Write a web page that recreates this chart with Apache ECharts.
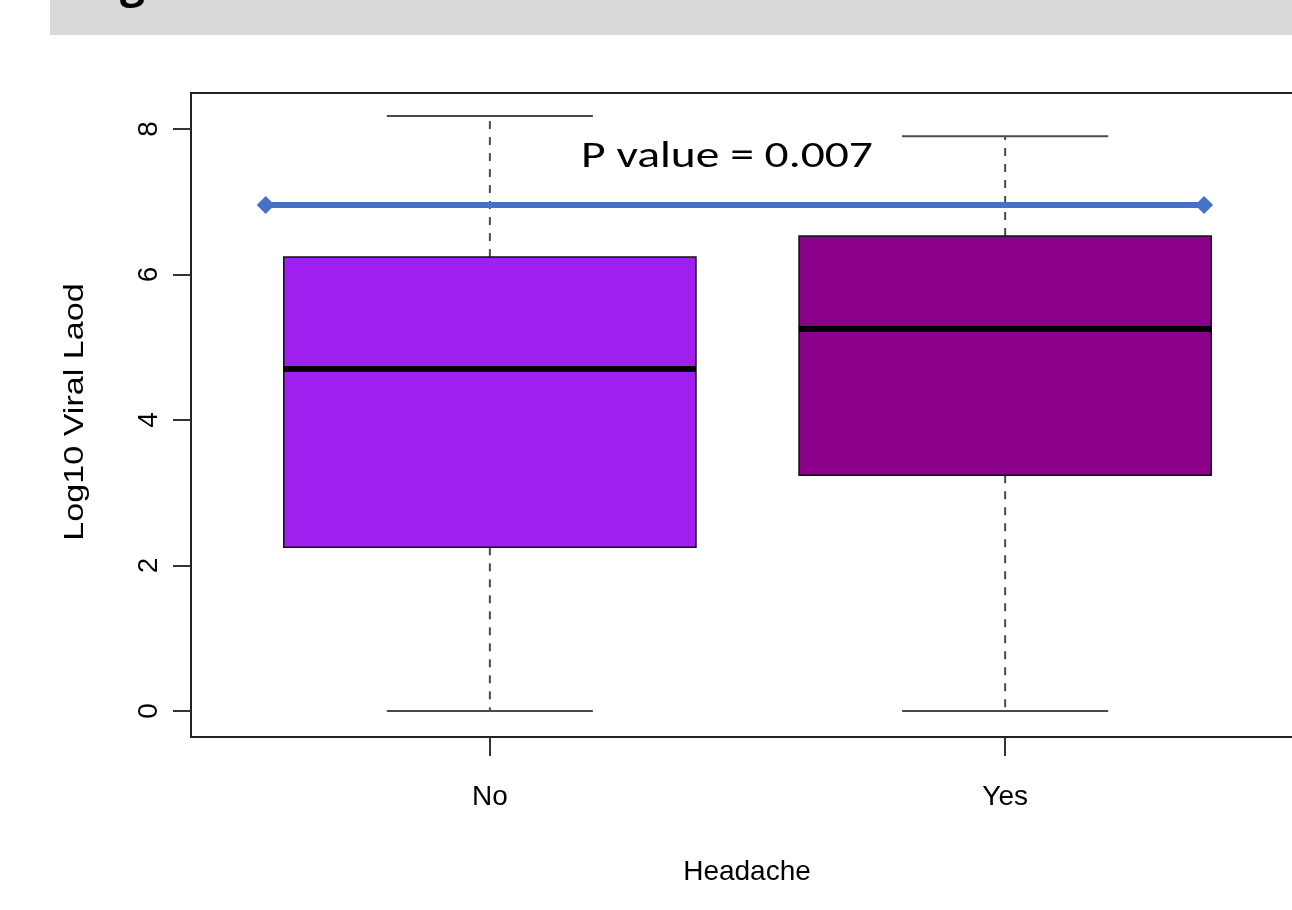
<!DOCTYPE html>
<html>
<head>
<meta charset="utf-8">
<title>Headache vs Log10 Viral Load</title>
<script src="https://cdn.jsdelivr.net/npm/echarts@6/dist/echarts.min.js"></script>
<style>
  html, body { margin: 0; padding: 0; background: #ffffff; }
  #chart { width: 1292px; height: 910px; }
</style>
</head>
<body>
<div id="chart"></div>
<script>
// Groups on the x axis
const categories = ['No', 'Yes'];
// Five-number summaries per group: [min, Q1, median, Q3, max]
const boxNo  = [0, 2.25, 4.70, 6.24, 8.18];
const boxYes = [0, 3.24, 5.25, 6.53, 7.90];
const boxFills = ['#A020F0', '#8B008B'];
// Y tick values
const yTicks = [0, 2, 4, 6, 8];
// Comparison bracket (x in group units, y in log10 units) and its label
const bracketX = [0.565, 2.386];
const bracketY = 6.955;
const pLabel = 'P value = 0.007';

const boxData = [boxNo, boxYes].map((b, i) => [i + 1].concat(b));

const chart = echarts.init(document.getElementById('chart'), null, { renderer: 'canvas' });

const FONT = '"Liberation Sans", Arial, Helvetica, sans-serif';

function renderBox(params, api) {
  const x = api.value(0);
  const vMin = api.value(1), q1 = api.value(2), med = api.value(3), q3 = api.value(4), vMax = api.value(5);
  const boxHalf = 0.4, capHalf = 0.2;
  const pL = api.coord([x - boxHalf, q3]);
  const pR = api.coord([x + boxHalf, q1]);
  const c = api.coord([x, 0]);
  const yMin = api.coord([x, vMin])[1];
  const yMax = api.coord([x, vMax])[1];
  const yQ1 = pR[1], yQ3 = pL[1];
  const yMed = api.coord([x, med])[1];
  const capL = api.coord([x - capHalf, 0])[0];
  const capR = api.coord([x + capHalf, 0])[0];
  const whisker = { stroke: '#4a4a4a', lineWidth: 2, lineDash: [8, 8] };
  const cap = { stroke: '#4a4a4a', lineWidth: 2 };
  return {
    type: 'group',
    children: [
      { type: 'line', shape: { x1: c[0], y1: yQ3, x2: c[0], y2: yMax }, style: whisker },
      { type: 'line', shape: { x1: c[0], y1: yQ1, x2: c[0], y2: yMin }, style: whisker },
      { type: 'line', shape: { x1: capL, y1: yMax, x2: capR, y2: yMax }, style: cap },
      { type: 'line', shape: { x1: capL, y1: yMin, x2: capR, y2: yMin }, style: cap },
      { type: 'rect', shape: { x: pL[0], y: yQ3, width: pR[0] - pL[0], height: yQ1 - yQ3 },
        style: { fill: boxFills[params.dataIndex], stroke: '#111', lineWidth: 1.5 } },
      { type: 'line', shape: { x1: pL[0], y1: yMed, x2: pR[0], y2: yMed },
        style: { stroke: '#000', lineWidth: 6 } }
    ]
  };
}

const option = {
  backgroundColor: '#ffffff',
  animation: false,
  grid: {
    left: 191, top: 93, width: 1113, height: 644,
    show: true, borderColor: '#222', borderWidth: 2, backgroundColor: 'transparent',
    containLabel: false, outerBoundsMode: 'none'
  },
  xAxis: {
    type: 'value', min: 0.42, max: 2.58,
    axisLine: { show: false, onZero: false },
    splitLine: { show: false },
    axisTick: { show: true, customValues: [1, 2], length: 19, lineStyle: { color: '#333', width: 2 } },
    axisLabel: {
      customValues: [1, 2], margin: 46, color: '#000', fontSize: 28, fontFamily: FONT,
      formatter: v => categories[Math.round(v) - 1]
    }
  },
  yAxis: {
    type: 'value', min: -0.357, max: 8.495,
    axisLine: { show: false, onZero: false },
    splitLine: { show: false },
    axisTick: { show: true, customValues: yTicks, length: 18, lineStyle: { color: '#333', width: 2 } },
    axisLabel: {
      customValues: yTicks, rotate: 90, margin: 28, color: '#000', fontSize: 28, fontFamily: FONT
    }
  },
  graphic: [
    { type: 'rect', left: 50, top: 0, shape: { width: 1242, height: 35 }, style: { fill: '#D9D9D9' }, z: 0 },
    { type: 'text', x: 120, y: -38, style: { text: 'g', font: 'bold 44px "Open Sans", Lato, sans-serif', fill: '#000' }, z: 1 },
    { type: 'text', x: 747, y: 872, style: { text: 'Headache', font: '28px ' + FONT, fill: '#000', align: 'center', verticalAlign: 'middle' } },
    { type: 'text', x: 75, y: 412, rotation: Math.PI / 2, scaleX: 1.22,
      style: { text: 'Log10 Viral Laod', font: '28px ' + FONT, fill: '#000', align: 'center', verticalAlign: 'middle' } },
    { type: 'text', x: 727, y: 158, z: 10, scaleX: 1.32,
      style: { text: pLabel, font: '36px Carlito, Calibri, Lato, "Open Sans", sans-serif', fill: '#000', align: 'center', verticalAlign: 'middle' } }
  ],
  series: [
    {
      type: 'custom',
      renderItem: renderBox,
      data: boxData,
      encode: { x: 0, y: [1, 2, 3, 4, 5] },
      clip: false,
      z: 2
    },
    {
      type: 'line',
      data: bracketX.map(x => [x, bracketY]),
      symbol: 'diamond',
      symbolSize: 18,
      lineStyle: { color: '#4472C4', width: 6 },
      itemStyle: { color: '#4472C4' },
      z: 5
    }
  ]
};

chart.setOption(option);
</script>
</body>
</html>
